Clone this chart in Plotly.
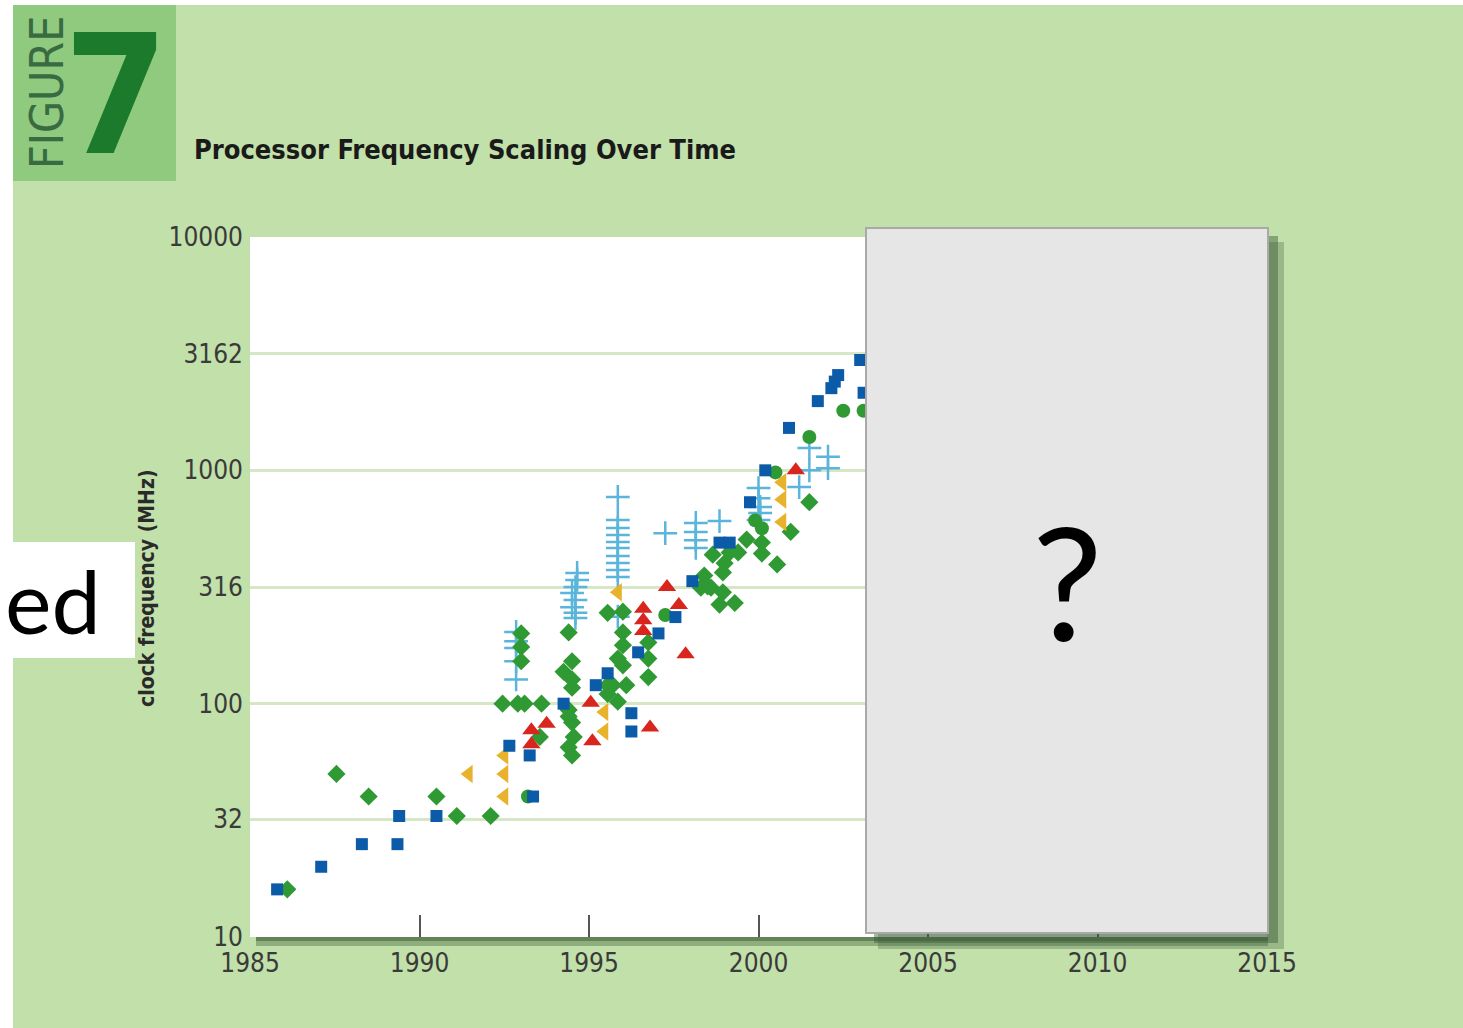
import plotly.graph_objects as go

# ---------------- data (year, MHz) ----------------
blue_sq_year = [1985.8, 1987.1, 1988.3, 1989.35, 1989.4, 1990.5, 1992.65, 1993.25, 1993.35, 1994.25,
                1995.2, 1995.55, 1996.25, 1996.25, 1996.45, 1997.05, 1997.55, 1998.05, 1998.85, 1999.15,
                1999.75, 2000.2, 2000.9, 2001.75, 2002.15, 2002.25, 2002.35, 2003.0, 2003.1]
blue_sq_mhz = [16, 20, 25, 25, 33, 33, 66, 60, 40, 100,
               120, 135, 91, 76, 166, 200, 235, 335, 490, 490,
               730, 1000, 1520, 1980, 2250, 2400, 2560, 2970, 2150]

green_dia_year = [1986.1, 1987.55, 1988.5, 1990.5, 1991.1, 1992.1, 1992.45, 1992.9, 1993.1, 1993.6,
                  1993.0, 1993.0, 1993.0, 1993.55,
                  1994.4, 1994.5, 1994.25, 1994.5, 1994.5, 1994.4, 1994.4, 1994.5, 1994.55, 1994.4, 1994.5,
                  1995.55, 1996.0, 1996.0, 1996.0, 1995.85, 1996.0, 1995.55, 1995.55, 1995.7, 1995.85, 1996.1,
                  1996.75, 1996.75, 1996.75,
                  1998.4, 1998.3, 1998.5, 1998.6, 1998.95, 1998.85, 1999.3, 1998.65, 1999.0, 1998.95,
                  1999.15, 1999.4, 1999.65, 2000.1, 2000.1, 2000.55, 2000.95, 2001.5]
green_dia_mhz = [16, 50, 40, 40, 33, 33, 100, 100, 100, 100,
                 200, 175, 152, 72,
                 202, 152, 137, 127, 117, 94, 88, 83, 72, 65, 60,
                 245, 248, 202, 178, 156, 146, 120, 110, 120, 102, 120,
                 183, 156, 130,
                 354, 314, 318, 314, 300, 266, 270, 435, 400, 365,
                 445, 445, 505, 490, 440, 395, 545, 730]

green_circ_year = [1993.2, 1997.25, 1999.9, 2000.1, 2000.5, 2001.5, 2002.5, 2003.1]
green_circ_mhz = [40, 240, 610, 565, 980, 1390, 1800, 1800]

red_tri_year = [1993.3, 1993.3, 1993.75, 1995.05, 1995.1, 1996.6, 1996.6, 1996.6, 1996.8,
                1997.3, 1997.65, 1997.85, 2001.1]
red_tri_mhz = [77, 67, 82, 101, 69, 255, 228, 205, 79, 316, 265, 163, 1000]

orange_tri_year = [1991.45, 1992.5, 1992.5, 1992.5, 1995.45, 1995.45, 1995.85, 2000.7, 2000.7, 2000.7]
orange_tri_mhz = [50, 60, 50, 40, 92, 76, 300, 890, 750, 600]

cross_year = [1992.85, 1992.85, 1992.85, 1992.85, 1992.85,
              1994.65, 1994.65, 1994.6, 1994.5, 1994.6, 1994.5, 1994.6, 1994.6,
              1995.85, 1995.85, 1995.85, 1995.85, 1995.85, 1995.85, 1995.85, 1995.85, 1995.85, 1995.85, 1995.85,
              1997.25,
              1998.15, 1998.15, 1998.15, 1998.15,
              1998.85,
              2000.0, 2000.0, 2000.05, 2000.05, 2000.0,
              2001.2, 2001.5, 2001.5, 2002.05, 2002.05]
cross_mhz = [203, 185, 173, 152, 127,
             363, 339, 316, 298, 278, 259, 245, 233,
             769, 612, 566, 528, 493, 465, 429, 401, 374, 349, 236,
             538,
             595, 544, 502, 465,
             606,
             839, 760, 697, 656, 612,
             848, 1247, 1000, 1144, 1022]

x_ticks = [1985, 1990, 1995, 2000, 2005, 2010, 2015]
y_ticks = [10, 32, 100, 316, 1000, 3162, 10000]
y_tick_text = ["10", "32", "100", "316", "1000", "3162", "10000"]

TITLE = "Processor Frequency Scaling Over Time"
Y_TITLE = "clock frequency (MHz)"

# ---------------- layout helpers ----------------
W, H = 1463, 1028
L, R, T, B = 250, 196, 237, 91
PW, PH = W - L - R, H - T - B


def px(x):
    return (x - L) / PW


def py(y):
    return (H - B - y) / PH


BG = "#c2e0a9"
NARROW = "DejaVu Sans Condensed, Liberation Sans Narrow, Arial Narrow, sans-serif"

fig = go.Figure()

fig.add_trace(go.Scatter(x=cross_year, y=cross_mhz, mode="markers",
                         marker=dict(symbol="cross-thin", size=17, line=dict(color="#5ab5da", width=2.5))))
fig.add_trace(go.Scatter(x=green_dia_year, y=green_dia_mhz, mode="markers",
                         marker=dict(symbol="diamond", size=14, color="#2f9a33", line=dict(width=0))))
fig.add_trace(go.Scatter(x=green_circ_year, y=green_circ_mhz, mode="markers",
                         marker=dict(symbol="circle", size=14, color="#2f9a33", line=dict(width=0))))
fig.add_trace(go.Scatter(x=orange_tri_year, y=orange_tri_mhz, mode="markers",
                         marker=dict(symbol="triangle-left", size=16, color="#e9b22c", line=dict(width=0))))
fig.add_trace(go.Scatter(x=red_tri_year, y=red_tri_mhz, mode="markers",
                         marker=dict(symbol="triangle-up", size=16, color="#d8261f", line=dict(width=0))))
fig.add_trace(go.Scatter(x=blue_sq_year, y=blue_sq_mhz, mode="markers",
                         marker=dict(symbol="square", size=12, color="#0b5ba8", line=dict(width=0))))

shapes = [
    # white page margins
    dict(type="rect", xref="paper", yref="paper", x0=px(0), x1=px(13), y0=py(H), y1=py(0),
         fillcolor="white", line=dict(width=0), layer="below"),
    dict(type="rect", xref="paper", yref="paper", x0=px(0), x1=px(W), y0=py(5), y1=py(0),
         fillcolor="white", line=dict(width=0), layer="below"),
    # FIGURE box
    dict(type="rect", xref="paper", yref="paper", x0=px(13), x1=px(176), y0=py(181), y1=py(5),
         fillcolor="#8fca7e", line=dict(width=0), layer="below"),
    # shadow below plot area
    dict(type="rect", xref="paper", yref="paper", x0=px(256), x1=px(1268), y0=py(946), y1=py(937),
         fillcolor="rgba(50,80,45,0.35)", line=dict(width=0), layer="below"),
    dict(type="rect", xref="paper", yref="paper", x0=px(256), x1=px(1268), y0=py(941), y1=py(937),
         fillcolor="rgba(50,80,45,0.45)", line=dict(width=0), layer="below"),
    # "ed" white box
    dict(type="rect", xref="paper", yref="paper", x0=px(0), x1=px(135), y0=py(658), y1=py(542),
         fillcolor="white", line=dict(width=0), layer="below"),
    # grey box shadow
    dict(type="rect", xref="paper", yref="paper", x0=px(878), x1=px(1284), y0=py(949), y1=py(242),
         fillcolor="rgba(60,90,55,0.30)", line=dict(width=0), layer="above"),
    dict(type="rect", xref="paper", yref="paper", x0=px(874), x1=px(1278), y0=py(943), y1=py(236),
         fillcolor="rgba(60,90,55,0.45)", line=dict(width=0), layer="above"),
    # grey box
    dict(type="rect", xref="paper", yref="paper", x0=px(866), x1=px(1268), y0=py(933), y1=py(228),
         fillcolor="#e6e6e6", line=dict(color="#a9a9a9", width=2), layer="above"),
]

annotations = [
    dict(text="7", xref="paper", yref="paper", x=px(116), y=py(96), xanchor="center", yanchor="middle",
         showarrow=False, font=dict(family=NARROW, size=166, color="#1c7a2c", weight="bold")),
    dict(text="FIGURE", xref="paper", yref="paper", x=px(47), y=py(93), xanchor="center", yanchor="middle",
         textangle=-90, showarrow=False, font=dict(family=NARROW, size=46, color="#3a6a42")),
    dict(text=TITLE, xref="paper", yref="paper", x=px(192), y=py(149), xanchor="left", yanchor="middle",
         showarrow=False, font=dict(family=NARROW, size=27, color="#1a1a1a", weight="bold")),
    dict(text=Y_TITLE, xref="paper", yref="paper", x=px(147), y=py(588), xanchor="center", yanchor="middle",
         textangle=-90, showarrow=False, font=dict(family=NARROW, size=21, color="#2a2a2a", weight="bold")),
    dict(text="ed", xref="paper", yref="paper", x=px(3), y=py(600), xanchor="left", yanchor="middle",
         showarrow=False, font=dict(family="Lato, Noto Sans, sans-serif", size=88, color="black")),
    dict(text="?", xref="paper", yref="paper", x=px(1067), y=py(580), xanchor="center", yanchor="middle",
         showarrow=False, font=dict(family="Lato, Noto Sans, sans-serif", size=158, color="black")),
]

fig.update_layout(
    width=W, height=H, autosize=False,
    margin=dict(l=L, r=R, t=T, b=B, pad=0),
    paper_bgcolor=BG, plot_bgcolor="white",
    showlegend=False,
    shapes=shapes, annotations=annotations,
    xaxis=dict(range=[1985, 2015], tickvals=x_ticks, ticks="inside", ticklen=22, tickwidth=1.5,
               tickcolor="#555555", showgrid=False, showline=False, zeroline=False,
               tickfont=dict(family=NARROW, size=26, color="#3a3a3a"), ticklabelstandoff=8),
    yaxis=dict(type="log", range=[1, 4], tickvals=y_ticks, ticktext=y_tick_text, ticks="",
               showgrid=True, gridcolor="#d6e7c6", gridwidth=2.5, showline=False, zeroline=False,
               tickfont=dict(family=NARROW, size=26, color="#3a3a3a"), ticklabelstandoff=6),
)

fig.write_html("out.html", config={"displayModeBar": False},
               post_script="document.body.style.margin='0';document.body.style.overflow='hidden';")
